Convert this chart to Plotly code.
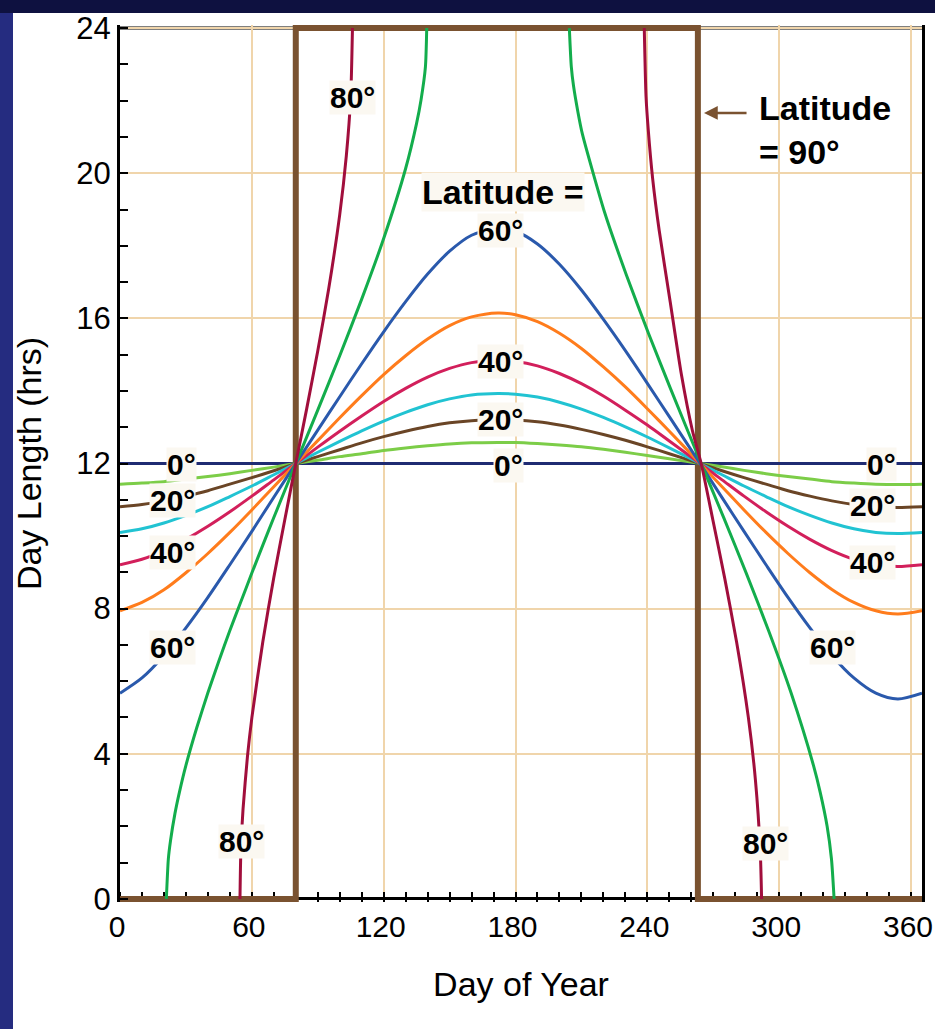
import plotly.graph_objects as go

# ---------------- data ----------------
DAYS = [0, 10, 20, 30, 40, 50, 60, 70, 80, 90, 100, 110, 120, 130, 140, 150, 160, 172, 180,
        190, 200, 210, 220, 230, 240, 250, 264, 274, 284, 294, 304, 314, 324, 334, 344, 354, 365]

LAT0 = [12.0, 12.0, 12.0, 12.0, 12.0, 12.0, 12.0, 12.0, 12.0, 12.0, 12.0, 12.0, 12.0, 12.0, 12.0,
        12.0, 12.0, 12.0, 12.0, 12.0, 12.0, 12.0, 12.0, 12.0, 12.0, 12.0, 12.0, 12.0, 12.0, 12.0,
        12.0, 12.0, 12.0, 12.0, 12.0, 12.0, 12.0]
LAT10 = [11.43, 11.46, 11.50, 11.57, 11.64, 11.72, 11.81, 11.90, 12.00, 12.09, 12.19, 12.27, 12.36,
         12.43, 12.49, 12.54, 12.57, 12.58, 12.58, 12.55, 12.51, 12.46, 12.39, 12.31, 12.22, 12.13,
         12.00, 11.91, 11.81, 11.72, 11.64, 11.57, 11.50, 11.46, 11.43, 11.42, 11.43]
LAT20 = [10.81, 10.87, 10.97, 11.10, 11.25, 11.43, 11.61, 11.80, 12.00, 12.19, 12.38, 12.57, 12.74,
         12.89, 13.02, 13.12, 13.18, 13.21, 13.20, 13.15, 13.06, 12.94, 12.80, 12.64, 12.46, 12.27,
         12.00, 11.80, 11.61, 11.43, 11.25, 11.10, 10.97, 10.87, 10.81, 10.79, 10.81]
LAT30 = [10.10, 10.20, 10.36, 10.57, 10.81, 11.09, 11.38, 11.69, 12.00, 12.31, 12.61, 12.90, 13.17,
         13.41, 13.62, 13.78, 13.89, 13.93, 13.91, 13.83, 13.69, 13.50, 13.27, 13.01, 12.73, 12.43,
         12.00, 11.69, 11.38, 11.09, 10.81, 10.57, 10.36, 10.20, 10.10, 10.07, 10.10]
LAT40 = [9.21, 9.36, 9.60, 9.91, 10.27, 10.67, 11.10, 11.55, 12.00, 12.45, 12.89, 13.31, 13.71,
         14.07, 14.38, 14.62, 14.78, 14.84, 14.81, 14.69, 14.48, 14.20, 13.86, 13.47, 13.06, 12.62,
         12.00, 11.55, 11.10, 10.67, 10.27, 9.91, 9.60, 9.36, 9.21, 9.16, 9.21]
LAT50 = [7.94, 8.17, 8.52, 8.99, 9.52, 10.10, 10.72, 11.36, 12.00, 12.63, 13.26, 13.87, 14.45,
         14.97, 15.43, 15.80, 16.04, 16.15, 16.10, 15.91, 15.59, 15.17, 14.66, 14.11, 13.51, 12.89,
         12.00, 11.36, 10.72, 10.10, 9.52, 8.99, 8.53, 8.17, 7.94, 7.85, 7.94]
LAT60 = [5.67, 6.09, 6.71, 7.47, 8.31, 9.21, 10.13, 11.07, 12.00, 12.92, 13.84, 14.75, 15.63,
         16.46, 17.22, 17.85, 18.29, 18.49, 18.40, 18.05, 17.49, 16.78, 15.97, 15.11, 14.21, 13.29,
         12.00, 11.06, 10.13, 9.21, 8.31, 7.47, 6.71, 6.09, 5.67, 5.51, 5.67]

# 70 deg: two visible pieces (polar night / polar day are off the drawn curve)
LAT70_A_DAYS = [21.1, 22, 23, 25, 27, 30, 35, 40, 45, 50, 55, 60, 65, 70, 80, 90, 100, 110, 120,
                130, 135, 137, 139, 139.6]
LAT70_A_HRS = [0.0, 1.10, 1.61, 2.35, 2.93, 3.68, 4.73, 5.68, 6.56, 7.40, 8.19, 8.98, 9.75, 10.51,
               12.00, 13.47, 14.97, 16.53, 18.20, 20.13, 21.38, 22.02, 22.93, 24.0]
LAT70_B_DAYS = [204.5, 205.4, 206.4, 208.4, 210.4, 220.5, 230.5, 240.5, 250.5, 264.5, 274.8, 285,
                295.2, 305.4, 315.6, 318.7, 321.8, 323.8, 325]
LAT70_B_HRS = [24.0, 22.93, 22.41, 21.69, 21.09, 18.93, 17.19, 15.59, 14.07, 12.00, 10.50, 8.98,
               7.39, 5.68, 3.68, 2.93, 2.01, 1.10, 0.0]

# 80 deg
LAT80_A_DAYS = [54.6, 55, 56, 58, 60, 65, 70, 75, 80, 85, 90, 95, 100, 103, 105, 105.8]
LAT80_A_HRS = [0.0, 1.31, 2.48, 3.92, 4.99, 7.09, 8.86, 10.45, 12.00, 13.52, 15.10, 16.82, 18.86,
               20.48, 22.12, 24.0]
LAT80_B_DAYS = [238.6, 239.4, 240.4, 242.4, 245.4, 250.4, 255.5, 260.5, 264.5, 269.8, 275.2,
                280.6, 286, 289.2, 291.4, 292]
LAT80_B_HRS = [24.0, 22.12, 21.21, 19.86, 18.42, 16.46, 14.45, 12.91, 12.00, 10.45, 8.84, 7.09,
               4.99, 3.27, 1.31, 0.0]

# 90 deg: step between polar night and polar day
LAT90_DAYS = [0, 80, 80, 263, 263, 365]
LAT90_HRS = [0, 0, 24, 24, 0, 0]

X_TICKS = [0, 60, 120, 180, 240, 300, 360]
Y_TICKS = [0, 4, 8, 12, 16, 20, 24]

COLORS = {
    0: "#1f2b72", 10: "#7ccd48", 20: "#6a4526", 30: "#21c3d2", 40: "#d21f5b",
    50: "#ff7c1c", 60: "#2a59ac", 70: "#13ad4c", 80: "#a10e3c", 90: "#7a5230",
}

PLOT_BG = "#fbf8f1"
GRID = "#f0d5ab"
FONT = "Liberation Sans, Arial, Helvetica, sans-serif"

fig = go.Figure()

fig.add_trace(go.Scatter(x=LAT90_DAYS, y=LAT90_HRS, mode="lines",
                         line=dict(color=COLORS[90], width=6), hoverinfo="skip"))

series = [(0, LAT0), (10, LAT10), (20, LAT20), (30, LAT30), (40, LAT40), (50, LAT50), (60, LAT60)]
for lat, vals in series:
    fig.add_trace(go.Scatter(x=DAYS, y=vals, mode="lines",
                             line=dict(color=COLORS[lat], width=3, shape="spline", smoothing=0.8)))

for xs, ys, lat in [(LAT70_A_DAYS, LAT70_A_HRS, 70), (LAT70_B_DAYS, LAT70_B_HRS, 70),
                    (LAT80_A_DAYS, LAT80_A_HRS, 80), (LAT80_B_DAYS, LAT80_B_HRS, 80)]:
    fig.add_trace(go.Scatter(x=xs, y=ys, mode="lines",
                             line=dict(color=COLORS[lat], width=3, shape="spline", smoothing=0.6)))

# ---------------- labels ----------------
def label(x, y, text, size=30):
    fig.add_annotation(x=x, y=y, xref="x", yref="y", text="<b>" + text + "</b>",
                       showarrow=False, font=dict(family=FONT, size=size, color="black"),
                       bgcolor=PLOT_BG, borderpad=0, xanchor="center", yanchor="middle")

label(106.0, 22.10, "80°")
label(174.3, 19.48, "Latitude =", size=34)
label(173.0, 18.43, "60°")
label(173.0, 14.80, "40°")
label(173.0, 13.20, "20°")
label(176.6, 11.95, "0°")
label(28.2, 11.98, "0°")
label(24.1, 10.97, "20°")
label(24.1, 9.56, "40°")
label(24.1, 6.94, "60°")
label(55.5, 1.57, "80°")
label(346.4, 11.98, "0°")
label(342.3, 10.83, "20°")
label(342.3, 9.26, "40°")
label(324.1, 6.92, "60°")
label(293.6, 1.54, "80°")

fig.add_annotation(x=289.8, y=21.18, xref="x", yref="y", text="<b>Latitude<br>= 90°</b>",
                   showarrow=False, align="left", xanchor="left", yanchor="middle",
                   font=dict(family=FONT, size=34, color="black"))
fig.add_annotation(x=265.8, y=21.66, xref="x", yref="y", text="", showarrow=True,
                   ax=44, ay=0, arrowhead=2, arrowsize=1.1, arrowwidth=2.5,
                   arrowcolor=COLORS[90])

# ---------------- frame ----------------
W, H = 935, 1029
ML, MR, MT, MB = 120, 13, 25, 127
pw, ph = W - ML - MR, H - MT - MB
shapes = [
    # darker band along the top of the page
    dict(type="rect", xref="paper", yref="paper", layer="below",
         x0=-ML / pw - 0.02, x1=(W - ML) / pw + 0.02,
         y0=(H - MB - 13) / ph, y1=(H - MB) / ph + 0.02,
         fillcolor="#0e1140", line=dict(width=0)),
    # white panel on the dark page
    dict(type="rect", xref="paper", yref="paper", layer="below",
         x0=(13 - ML) / pw, x1=(W - ML) / pw + 0.02,
         y0=-(MB + 5) / ph, y1=(H - MB - 13) / ph,
         fillcolor="white", line=dict(width=0)),
    # top border of the frame
    dict(type="line", xref="x", yref="y", layer="below", x0=0, x1=365, y0=24, y1=24,
         line=dict(color="black", width=3)),
]

fig.update_layout(
    width=W, height=H, template="none",
    margin=dict(l=ML, r=MR, t=MT, b=MB, pad=0),
    paper_bgcolor="#252c80", plot_bgcolor=PLOT_BG,
    showlegend=False, shapes=shapes,
    font=dict(family=FONT, color="black"),
)

fig.update_xaxes(
    range=[0, 365], tickvals=X_TICKS, ticktext=[str(v) for v in X_TICKS],
    showline=False, zeroline=False, showgrid=True, gridcolor=GRID, gridwidth=2,
    ticks="", tickfont=dict(family=FONT, size=30, color="black"),
    ticklabelstandoff=4, ticklabelshift=-3, ticklabeloverflow="allow",
    minor=dict(dtick=10, tick0=0, ticks="inside", ticklen=10, tickwidth=1.5,
               tickcolor="black", showgrid=False),
    layer="below traces", automargin=False,
    title=dict(text="Day of Year", font=dict(family=FONT, size=34, color="black"), standoff=30),
)
fig.update_yaxes(
    range=[-0.085, 24.085], tickvals=Y_TICKS, ticktext=[str(v) for v in Y_TICKS],
    showline=True, linecolor="black", linewidth=3, mirror=True,
    zeroline=True, zerolinecolor="black", zerolinewidth=3,
    showgrid=True, gridcolor=GRID, gridwidth=2,
    ticks="", tickfont=dict(family=FONT, size=31, color="black"),
    ticklabeloverflow="allow",
    minor=dict(dtick=1, tick0=0, ticks="inside", ticklen=8, tickwidth=1.5,
               tickcolor="black", showgrid=False),
    automargin=False,
    title=dict(text="Day Length (hrs)", font=dict(family=FONT, size=34, color="black"), standoff=25),
)

fig.write_html("out.html", config={"displayModeBar": False},
               post_script="document.body.style.margin='0';document.body.style.overflow='hidden';")
